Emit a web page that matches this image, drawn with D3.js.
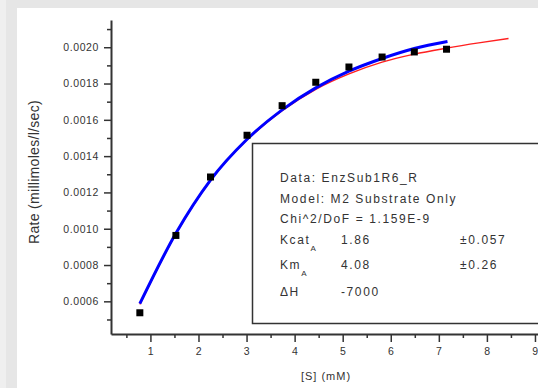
<!DOCTYPE html>
<html>
<head>
<meta charset="utf-8">
<script src="https://cdn.jsdelivr.net/npm/d3@7"></script>
<style>
  body { margin: 0; background: #e6e6e6; }
  svg { display: block; }
  text { font-family: "Liberation Sans", Arial, sans-serif; fill: #333; }
</style>
</head>
<body>
<script>
const w = 538;
const h = 388;

// measured points
const sConc = [0.78, 1.53, 2.25, 3.01, 3.74, 4.44, 5.13, 5.82, 6.49, 7.16];
const rate  = [0.000537, 0.000963, 0.001285, 0.001515, 0.001678, 0.001807, 0.001891, 0.001946, 0.001974, 0.001989];

// blue fit curve
const blueS    = [0.78, 1.53, 2.25, 3.0, 3.74, 4.44, 5.13, 5.82, 6.49, 7.18];
const blueRate = [0.000587, 0.000975, 0.001268, 0.001490, 0.001655, 0.001776, 0.001868, 0.001938, 0.001993, 0.002032];

// red fit curve
const redS    = [0.78, 1.53, 2.25, 3.0, 3.74, 4.44, 5.13, 5.82, 6.49, 7.16, 7.83, 8.45];
const redRate = [0.000583, 0.000972, 0.001266, 0.001487, 0.001650, 0.001768, 0.001853, 0.001918, 0.001962, 0.001995, 0.002024, 0.002048];

const xTicks = [1, 2, 3, 4, 5, 6, 7, 8, 9];
const xMinor = [0.5, 1.5, 2.5, 3.5, 4.5, 5.5, 6.5, 7.5, 8.5, 9.5];
const yTicks = [0.0006, 0.0008, 0.0010, 0.0012, 0.0014, 0.0016, 0.0018, 0.0020];
const yMinor = [0.0005, 0.0007, 0.0009, 0.0011, 0.0013, 0.0015, 0.0017, 0.0019, 0.0021];

const boxLines = ["Data: EnzSub1R6_R", "Model: M2 Substrate Only", "Chi^2/DoF = 1.159E-9"];
const paramNames = ["Kcat", "Km", "\u0394H"];
const paramSubs = ["A", "A", ""];
const paramValues = ["1.86", "4.08", "-7000"];
const paramErrors = ["\u00b10.057", "\u00b10.26", ""];

let svg = d3.select("body")
            .append("svg")
            .attr("width", w)
            .attr("height", h)

// window frame
svg.append("rect").attr("x", 0).attr("y", 0).attr("width", 6).attr("height", h).attr("fill", "#efefef");
svg.append("rect").attr("x", 17).attr("y", 8).attr("width", w).attr("height", h).attr("fill", "#fff");

let x = d3.scaleLinear()
        .domain([0.18, 9.5])
        .range([111, 559]);

let y = d3.scaleLinear()
        .domain([0.00042, 0.00215])
        .range([334, 20]);

// axes
let yAxis = svg.append("g")
   .attr("transform", "translate(111,0)")
   .call(d3.axisLeft(y).tickValues(yTicks).tickFormat(d3.format(".4f")).tickSize(7).tickSizeOuter(0).tickPadding(5));
svg.append("g")
   .attr("transform", "translate(111,0)")
   .call(d3.axisLeft(y).tickValues(yMinor).tickFormat("").tickSize(4).tickSizeOuter(0))
   .select(".domain").remove();

let xAxis = svg.append("g")
   .attr("transform", "translate(0,334)")
   .call(d3.axisBottom(x).tickValues(xTicks).tickSize(8).tickSizeOuter(0).tickPadding(6));
svg.append("g")
   .attr("transform", "translate(0,334)")
   .call(d3.axisBottom(x).tickValues(xMinor).tickFormat("").tickSize(4).tickSizeOuter(0))
   .select(".domain").remove();

svg.selectAll(".domain").attr("stroke", "#333").attr("stroke-width", 2);
svg.selectAll(".tick line").attr("stroke", "#333").attr("stroke-width", 1.5);
svg.selectAll(".tick text")
   .style("font-family", "'Liberation Sans', Arial, sans-serif")
   .style("font-size", "10.5px")
   .style("letter-spacing", "0.6px")
   .attr("fill", "#3a3a3a");

// axis titles
svg.append("text")
   .attr("transform", "translate(39,172) rotate(-90)")
   .attr("text-anchor", "middle")
   .style("font-size", "14px")
   .style("letter-spacing", "0.3px")
   .text("Rate (millimoles/l/sec)");

svg.append("text")
   .attr("x", 326)
   .attr("y", 380)
   .attr("text-anchor", "middle")
   .style("font-size", "11px")
   .style("letter-spacing", "1px")
   .text("[S] (mM)");

// fit curves
let line = d3.line()
   .x((d) => x(d[0]))
   .y((d) => y(d[1]))
   .curve(d3.curveMonotoneX);

svg.append("path")
   .datum(d3.zip(redS, redRate))
   .attr("d", line)
   .attr("fill", "none")
   .attr("stroke", "#ff2020")
   .attr("stroke-width", 1.5);

svg.append("path")
   .datum(d3.zip(blueS, blueRate))
   .attr("d", line)
   .attr("fill", "none")
   .attr("stroke", "#0000ff")
   .attr("stroke-width", 3);

// data points
svg.selectAll("rect.pt")
   .data(d3.zip(sConc, rate))
   .enter()
   .append("rect")
   .attr("class", "pt")
   .attr("width", 7)
   .attr("height", 7)
   .attr("x", (d) => x(d[0]) - 3.5)
   .attr("y", (d) => y(d[1]) - 3.5)
   .attr("fill", "#000");

// result box
svg.append("rect")
   .attr("x", 252.5)
   .attr("y", 143.5)
   .attr("width", 320)
   .attr("height", 180)
   .attr("fill", "#fff")
   .attr("stroke", "#333")
   .attr("stroke-width", 1.5);

let box = svg.append("g")
   .style("font-size", "12px")
   .style("letter-spacing", "1.6px");

box.selectAll("text.hdr")
   .data(boxLines)
   .enter()
   .append("text")
   .attr("class", "hdr")
   .attr("x", 280)
   .attr("y", (d, i) => 182 + i * 20.5)
   .text((d) => d);

const rowY = [244, 269, 296];
paramNames.forEach((p, i) => {
  let t = box.append("text").attr("x", 280).attr("y", rowY[i]).text(p);
  if (paramSubs[i]) {
    t.append("tspan")
     .attr("dy", 7)
     .style("font-size", "8px")
     .text(paramSubs[i]);
  }
  box.append("text").attr("x", 341).attr("y", rowY[i]).text(paramValues[i]);
  box.append("text").attr("x", 460).attr("y", rowY[i]).text(paramErrors[i]);
});
</script>
</body>
</html>
